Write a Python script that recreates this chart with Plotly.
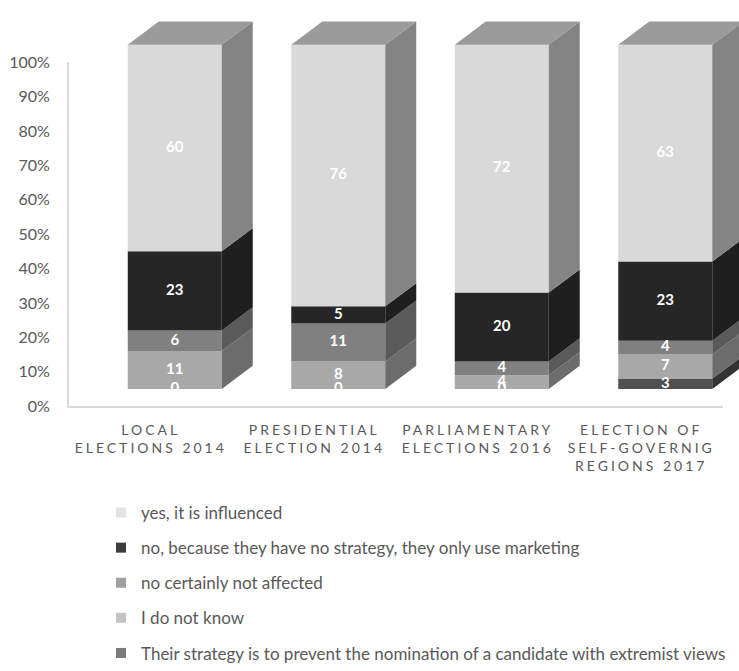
import plotly.graph_objects as go

# ---- data -------------------------------------------------------------
categories = [
    ["LOCAL", "ELECTIONS 2014"],
    ["PRESIDENTIAL", "ELECTION 2014"],
    ["PARLIAMENTARY", "ELECTIONS 2016"],
    ["ELECTION OF", "SELF-GOVERNIG", "REGIONS 2017"],
]

# stacked bottom -> top
prevent_vals = [0, 0, 0, 3]
dont_know_vals = [11, 8, 4, 7]
not_affected_vals = [6, 11, 4, 4]
no_strategy_vals = [23, 5, 20, 23]
yes_vals = [60, 76, 72, 63]

series_names = [
    "Their strategy is to prevent the nomination of a candidate with extremist views",
    "I do not know",
    "no certainly not affected",
    "no, because they have no strategy, they only use marketing",
    "yes, it is influenced",
]
series_values = [prevent_vals, dont_know_vals, not_affected_vals, no_strategy_vals, yes_vals]

# face colours (front, side, top) and legend swatch colours
front_colors = ["#505050", "#a8a8a8", "#808080", "#262626", "#d9d9d9"]
side_colors = ["#333333", "#6c6c6c", "#5a5a5a", "#1f1f1f", "#848484"]
top_color = "#9b9b9b"
legend_colors = ["#7b7b7b", "#c4c4c4", "#a0a0a0", "#3c3c3c", "#e2e2e2"]
legend_rank = [5, 4, 3, 2, 1]

y_ticks = list(range(0, 101, 10))
y_ticktext = [f"{v}%" for v in y_ticks]

# ---- geometry ---------------------------------------------------------
W, H = 739, 671
ax_left, ax_right, ax_bottom, ax_top = 69, 723, 411, 54
floor_px = 393                      # bottom edge of the front faces
cat_px = (ax_right - ax_left) / 4   # pixels per category
pct_px = (ax_bottom - ax_top) / 100  # pixels per percent

front_shift = 24 / cat_px
front_w = 94 / cat_px
depth_dx = 31 / cat_px
depth_dy = 24 / pct_px

FONT = "Lato, 'Open Sans', sans-serif"
GREY = "#595959"

fig = go.Figure()

n = len(categories)
bases = [[0] * n]
for vals in series_values[:-1]:
    bases.append([b + v for b, v in zip(bases[-1], vals)])

# side faces
for s, vals in enumerate(series_values):
    xs, ys = [], []
    for i, v in enumerate(vals):
        if v <= 0:
            continue
        b = bases[s][i]
        xr = i + front_shift + front_w / 2
        xs += [xr, xr + depth_dx, xr + depth_dx, xr, xr, None]
        ys += [b, b + depth_dy, b + v + depth_dy, b + v, b, None]
    fig.add_trace(go.Scatter(
        x=xs, y=ys, mode="lines", fill="toself", fillcolor=side_colors[s],
        line=dict(width=0, color=side_colors[s]), hoverinfo="skip",
        showlegend=False, xaxis="x", yaxis="y"))

# top faces of the stacks
xs, ys = [], []
for i in range(n):
    t = bases[-1][i] + series_values[-1][i]
    xl = i + front_shift - front_w / 2
    xr = i + front_shift + front_w / 2
    xs += [xl, xl + depth_dx, xr + depth_dx, xr, xl, None]
    ys += [t, t + depth_dy, t + depth_dy, t, t, None]
fig.add_trace(go.Scatter(
    x=xs, y=ys, mode="lines", fill="toself", fillcolor=top_color,
    line=dict(width=0, color=top_color), hoverinfo="skip",
    showlegend=False, xaxis="x", yaxis="y"))

# front faces
for s, vals in enumerate(series_values):
    fig.add_trace(go.Bar(
        x=[i + front_shift for i in range(n)], y=vals, base=bases[s],
        width=front_w, marker=dict(color=front_colors[s], line=dict(width=0)),
        showlegend=False, hoverinfo="skip", xaxis="x", yaxis="y"))

# value labels
for s, vals in enumerate(series_values):
    fig.add_trace(go.Scatter(
        x=[i + front_shift for i in range(n)],
        y=[b + v / 2 for b, v in zip(bases[s], vals)],
        text=[str(v) for v in vals], mode="text",
        textfont=dict(family=FONT, size=15, color="white", weight="bold"),
        cliponaxis=True, showlegend=False, hoverinfo="skip",
        xaxis="x", yaxis="y"))

# legend entries
for s, name in enumerate(series_names):
    fig.add_trace(go.Scatter(
        x=[None], y=[None], mode="markers", name=name,
        marker=dict(symbol="square", size=10, color=legend_colors[s]),
        legendrank=legend_rank[s], legendgroup=f"g{s}",
        xaxis="x2", yaxis="y2"))


def spaced(lines):
    return "<br>".join(
        f'<span style="letter-spacing:3px">{ln}</span>' for ln in lines)


fig.update_layout(
    width=W, height=H,
    margin=dict(l=0, r=0, t=0, b=0),
    paper_bgcolor="white", plot_bgcolor="rgba(0,0,0,0)",
    font=dict(family=FONT, color=GREY, size=16),
    barmode="overlay",
    # bars drawn on a hidden pair of axes whose floor is the front-face bottom
    xaxis=dict(domain=[ax_left / W, 1], range=[-0.5, -0.5 + (W - ax_left) / cat_px],
               visible=False, fixedrange=True),
    yaxis=dict(domain=[1 - floor_px / H, 1], range=[0, floor_px / pct_px],
               visible=False, fixedrange=True),
    # visible value/category axes
    xaxis2=dict(domain=[ax_left / W, ax_right / W], range=[-0.5, 3.5],
                anchor="y2", tickmode="array", tickvals=list(range(n)),
                ticktext=[spaced(c) for c in categories],
                tickfont=dict(size=14, color=GREY), ticks="",
                ticklabelstandoff=10,
                showline=True, linecolor="#d9d9d9", linewidth=2,
                showgrid=False, zeroline=False),
    yaxis2=dict(domain=[1 - ax_bottom / H, 1 - ax_top / H], range=[0, 100],
                anchor="x2", tickmode="array", tickvals=y_ticks,
                ticktext=y_ticktext, tickfont=dict(size=16, color=GREY),
                ticks="", ticklabelstandoff=14,
                showline=True, linecolor="#d9d9d9", linewidth=2,
                showgrid=False, zeroline=False),
    legend=dict(x=(141 - 40) / W, xanchor="left", y=1 - 503 / H, yanchor="top",
                font=dict(size=17, color=GREY), tracegroupgap=10,
                bgcolor="rgba(0,0,0,0)"),
)

fig.write_html("out.html")
